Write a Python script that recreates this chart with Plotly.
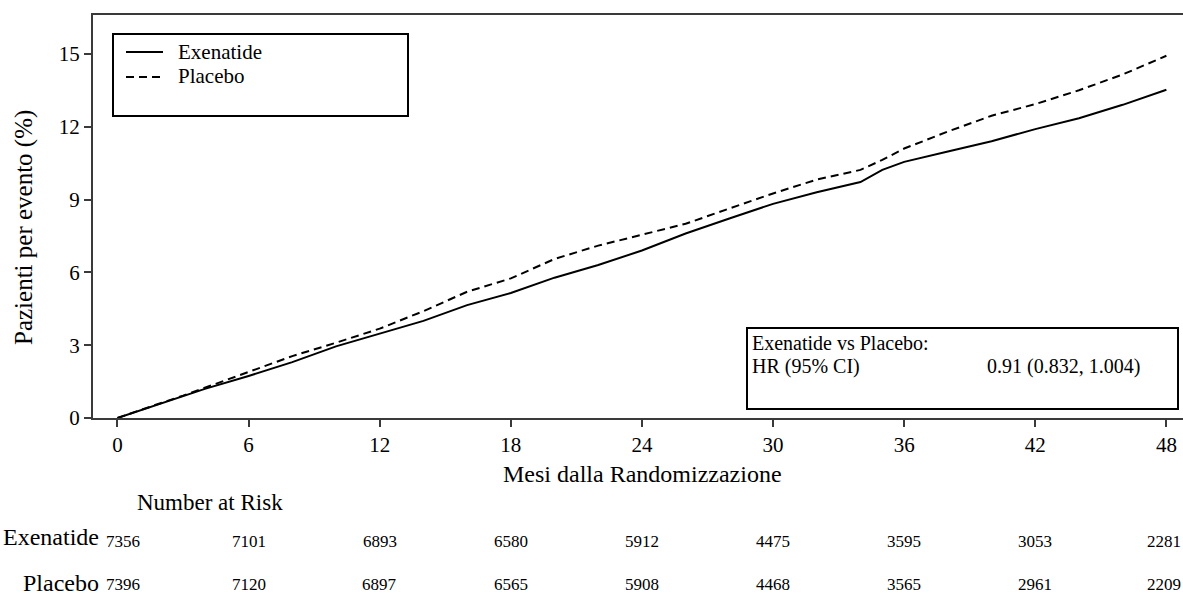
import plotly.graph_objects as go

# Cumulative incidence (%) by month since randomisation
months = [0, 1, 2, 3, 4, 6, 8, 10, 12, 14, 16, 18, 20, 22, 24, 26, 28, 30,
          32, 34, 35, 36, 38, 40, 42, 44, 46, 48]
exenatide = [0, 0.30, 0.60, 0.90, 1.20, 1.73, 2.30, 2.95, 3.48, 4.00, 4.65, 5.15,
             5.78, 6.30, 6.90, 7.60, 8.22, 8.82, 9.30, 9.72, 10.22, 10.55, 10.98,
             11.40, 11.90, 12.35, 12.90, 13.52]
placebo = [0, 0.32, 0.62, 0.92, 1.25, 1.90, 2.55, 3.10, 3.68, 4.40, 5.20, 5.75,
           6.55, 7.10, 7.55, 8.00, 8.63, 9.25, 9.82, 10.22, 10.63, 11.10, 11.80,
           12.45, 12.93, 13.50, 14.15, 14.92]

# Number at risk table
risk_months = [0, 6, 12, 18, 24, 30, 36, 42, 48]
risk_exenatide = [7356, 7101, 6893, 6580, 5912, 4475, 3595, 3053, 2281]
risk_placebo = [7396, 7120, 6897, 6565, 5908, 4468, 3565, 2961, 2209]

y_ticks = [0, 3, 6, 9, 12, 15]

hr_title = "Exenatide vs Placebo:"
hr_label = "HR (95% CI)"
hr_value = "0.91 (0.832, 1.004)"

SERIF = "Liberation Serif, Times New Roman, serif"
W, H = 1183, 595
ML, MR, MT, MB = 93, 0, 15, 177
AXIS_COLOR = "#3a3a3a"


def px(x):
    """Pixel x -> paper coordinate."""
    return (x - ML) / (W - ML - MR)


def py(y):
    """Pixel y -> paper coordinate."""
    return (H - MB - y) / (H - MT - MB)


fig = go.Figure()
fig.add_trace(go.Scatter(x=months, y=exenatide, mode="lines", name="Exenatide",
                         line=dict(color="black", width=2), showlegend=False))
fig.add_trace(go.Scatter(x=months, y=placebo, mode="lines", name="Placebo",
                         line=dict(color="black", width=2, dash="8px,5px"),
                         showlegend=False))

shapes = []
annotations = []

# Legend box
shapes.append(dict(type="rect", xref="paper", yref="paper",
                   x0=px(113), x1=px(408), y0=py(116), y1=py(34),
                   line=dict(color="black", width=2), fillcolor="white", layer="below"))
shapes.append(dict(type="line", xref="paper", yref="paper",
                   x0=px(126), x1=px(163), y0=py(52), y1=py(52),
                   line=dict(color="black", width=2)))
shapes.append(dict(type="line", xref="paper", yref="paper",
                   x0=px(126), x1=px(163), y0=py(77), y1=py(77),
                   line=dict(color="black", width=2, dash="8px,5px")))
for name, yy in (("Exenatide", 52), ("Placebo", 76)):
    annotations.append(dict(text=name, xref="paper", yref="paper", x=px(176), y=py(yy),
                            xanchor="left", yanchor="middle", showarrow=False,
                            font=dict(family=SERIF, size=21, color="black")))

# Hazard ratio box
shapes.append(dict(type="rect", xref="paper", yref="paper",
                   x0=px(747), x1=px(1178), y0=py(409), y1=py(328),
                   line=dict(color="black", width=2), fillcolor="white", layer="below"))
annotations.append(dict(text=hr_title, xref="paper", yref="paper", x=px(750), y=py(343),
                        xanchor="left", yanchor="middle", showarrow=False,
                        font=dict(family=SERIF, size=20, color="black")))
annotations.append(dict(text=hr_label, xref="paper", yref="paper", x=px(750), y=py(366),
                        xanchor="left", yanchor="middle", showarrow=False,
                        font=dict(family=SERIF, size=20, color="black")))
annotations.append(dict(text=hr_value, xref="paper", yref="paper", x=px(985), y=py(366),
                        xanchor="left", yanchor="middle", showarrow=False,
                        font=dict(family=SERIF, size=20, color="black")))

# Axis titles
annotations.append(dict(text="Mesi dalla Randomizzazione", xref="paper", yref="paper",
                        x=px(642), y=py(474), xanchor="center", yanchor="middle",
                        showarrow=False, font=dict(family=SERIF, size=24, color="black")))
annotations.append(dict(text="Pazienti per evento (%)", xref="paper", yref="paper",
                        x=px(24), y=py(228), xanchor="center", yanchor="middle",
                        textangle=-90, showarrow=False,
                        font=dict(family=SERIF, size=25, color="black")))

# Number at risk
annotations.append(dict(text="Number at Risk", xref="paper", yref="paper",
                        x=px(135), y=py(503), xanchor="left", yanchor="middle",
                        showarrow=False, font=dict(family=SERIF, size=23, color="black")))
for label, values, y_lab, y_num in (("Exenatide", risk_exenatide, 537, 541),
                                    ("Placebo", risk_placebo, 583, 584)):
    annotations.append(dict(text=label, xref="paper", yref="paper", x=px(101), y=py(y_lab),
                            xanchor="right", yanchor="middle", showarrow=False,
                            font=dict(family=SERIF, size=24, color="black")))
    for i, (m, v) in enumerate(zip(risk_months, values)):
        annotations.append(dict(text=str(v), xref="x", yref="paper", x=m, y=py(y_num),
                                xanchor="center", yanchor="middle", showarrow=False,
                                xshift=6 if i == 0 else (-2 if i == len(values) - 1 else 0),
                                font=dict(family=SERIF, size=17, color="black")))

fig.update_layout(
    width=W, height=H,
    margin=dict(l=ML, r=MR, t=MT, b=MB),
    paper_bgcolor="white", plot_bgcolor="white",
    shapes=shapes, annotations=annotations,
    showlegend=False,
)
fig.update_xaxes(range=[-1.12, 48.76], tickvals=risk_months, ticks="outside",
                 ticklen=7, tickwidth=2, tickcolor=AXIS_COLOR,
                 showline=True, linecolor=AXIS_COLOR, linewidth=2, mirror=True,
                 showgrid=False, zeroline=False,
                 tickfont=dict(family=SERIF, size=21, color="black"))
fig.update_yaxes(range=[0, 16.6], tickvals=y_ticks, ticks="outside",
                 ticklen=7, tickwidth=2, tickcolor=AXIS_COLOR,
                 showline=True, linecolor=AXIS_COLOR, linewidth=2,
                 showgrid=False, zeroline=False,
                 tickfont=dict(family=SERIF, size=21, color="black"))

fig.write_html("out.html")
